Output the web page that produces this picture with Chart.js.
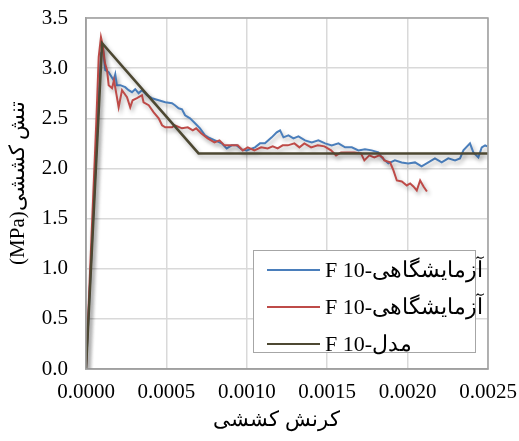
<!DOCTYPE html>
<html>
<head>
<meta charset="utf-8">
<script src="https://cdn.jsdelivr.net/npm/chart.js@4/dist/chart.umd.min.js"></script>
<style>
  body { margin: 0; background: #fff; }
  #wrap { position: relative; width: 519px; height: 441px; }
  #legend {
    position: absolute; left: 253px; top: 250px; width: 223px; height: 103px;
    border: 1px solid #a6a6a6; background: #fff; box-sizing: border-box;
    font-family: "Liberation Serif", "Times New Roman", serif; font-size: 22px;
  }
  .item { position: absolute; left: 13px; height: 26px; display: flex; align-items: center; white-space: nowrap; }
  .swatch { width: 53px; height: 0; border-top: 2px solid; margin-right: 5px; }
</style>
</head>
<body>
<div id="wrap">
  <canvas id="chart" width="519" height="441"></canvas>
  <div id="legend"></div>
</div>
<script>
const strainBlue = [0, 0.000080, 0.000093, 0.000106, 0.000120, 0.000141, 0.000172, 0.000182, 0.000192, 0.000213,
  0.000244, 0.000265, 0.000286, 0.000306, 0.000327, 0.000348, 0.000379, 0.000410, 0.000452, 0.000493,
  0.000535, 0.000553, 0.000576, 0.000597, 0.000616, 0.000647, 0.000678, 0.000709, 0.000740, 0.000761,
  0.000802, 0.000844, 0.000875, 0.000906, 0.000937, 0.000968, 0.000999, 0.001051, 0.001082, 0.001113,
  0.001155, 0.001186, 0.001207, 0.001228, 0.001259, 0.001290, 0.001321, 0.001362, 0.001404, 0.001445,
  0.001487, 0.001528, 0.001570, 0.001611, 0.001653, 0.001694, 0.001735, 0.001777, 0.001818, 0.001839,
  0.001880, 0.001921, 0.001963, 0.002004, 0.002046, 0.002087, 0.002129, 0.002170, 0.002212, 0.002253,
  0.002295, 0.002326, 0.002347, 0.002388, 0.002409, 0.002440, 0.002461, 0.002482, 0.002495];
const stressBlue = [0, 2.70, 3.15, 3.18, 2.98, 2.96, 2.88, 2.94, 2.83, 2.83,
  2.81, 2.78, 2.76, 2.79, 2.75, 2.78, 2.73, 2.70, 2.68, 2.66,
  2.65, 2.63, 2.60, 2.59, 2.53, 2.50, 2.45, 2.40, 2.33, 2.31,
  2.28, 2.25, 2.20, 2.23, 2.23, 2.19, 2.18, 2.21, 2.25, 2.25,
  2.31, 2.36, 2.38, 2.31, 2.33, 2.30, 2.32, 2.28, 2.26, 2.28,
  2.25, 2.23, 2.25, 2.21, 2.21, 2.18, 2.19, 2.18, 2.16, 2.11,
  2.05, 2.08, 2.06, 2.05, 2.06, 2.02, 2.06, 2.10, 2.06, 2.10,
  2.08, 2.10, 2.18, 2.25, 2.16, 2.11, 2.21, 2.23, 2.22];

const strainRed = [0, 0.000065, 0.000079, 0.000093, 0.000104, 0.000118, 0.000131, 0.000141, 0.000162, 0.000174,
  0.000203, 0.000224, 0.000255, 0.000275, 0.000290, 0.000317, 0.000348, 0.000358, 0.000390, 0.000421,
  0.000452, 0.000473, 0.000493, 0.000535, 0.000553, 0.000597, 0.000633, 0.000664, 0.000685, 0.000716,
  0.000757, 0.000799, 0.000830, 0.000861, 0.000913, 0.000944, 0.000975, 0.001006, 0.001047, 0.001089,
  0.001130, 0.001161, 0.001192, 0.001223, 0.001255, 0.001296, 0.001327, 0.001358, 0.001400, 0.001441,
  0.001483, 0.001524, 0.001555, 0.001586, 0.001628, 0.001669, 0.001710, 0.001731, 0.001762, 0.001793,
  0.001824, 0.001845, 0.001855, 0.001891, 0.001912, 0.001933, 0.001964, 0.001995, 0.002016, 0.002036,
  0.002057, 0.002078, 0.002099, 0.002120];
const stressRed = [0, 2.50, 3.11, 3.31, 3.23, 3.05, 2.98, 2.83, 2.80, 2.88,
  2.61, 2.78, 2.71, 2.61, 2.68, 2.70, 2.73, 2.66, 2.63, 2.56,
  2.50, 2.43, 2.41, 2.41, 2.43, 2.40, 2.41, 2.38, 2.40, 2.35,
  2.30, 2.26, 2.28, 2.23, 2.23, 2.23, 2.18, 2.21, 2.18, 2.21,
  2.20, 2.22, 2.20, 2.23, 2.23, 2.25, 2.21, 2.25, 2.21, 2.23,
  2.22, 2.18, 2.13, 2.16, 2.16, 2.16, 2.15, 2.08, 2.13, 2.11,
  2.13, 2.11, 2.08, 2.06, 1.98, 1.88, 1.87, 1.83, 1.85, 1.82,
  1.78, 1.88, 1.82, 1.77];

const strainModel = [0, 0.0001, 0.0007, 0.0025];
const stressModel = [0, 3.25, 2.15, 2.15];

const xTicks = ["0.0000", "0.0005", "0.0010", "0.0015", "0.0020", "0.0025"];
const yTicks = ["0.0", "0.5", "1.0", "1.5", "2.0", "2.5", "3.0", "3.5"];

const seriesNames = ["F 10-آزمایشگاهی", "F 10-آزمایشگاهی", "F 10-مدل"];
const seriesColors = ["#4a7ebb", "#be4b48", "#4d4832"];

const toPoints = (xs, ys) => xs.map((x, i) => ({ x: x, y: ys[i] }));

const serif = "\"Liberation Serif\", \"Times New Roman\", serif";

// Excel style soft shadow under the lines
const shadowPlugin = {
  id: "shadow",
  beforeDatasetDraw(chart) {
    const ctx = chart.ctx;
    ctx.save();
    ctx.shadowColor = "rgba(0,0,0,0.3)";
    ctx.shadowBlur = 4;
    ctx.shadowOffsetX = 2;
    ctx.shadowOffsetY = 3;
  },
  afterDatasetDraw(chart) {
    chart.ctx.restore();
  }
};

const framePlugin = {
  id: "frame",
  afterDraw(chart) {
    const { ctx, chartArea: a } = chart;
    ctx.save();
    ctx.strokeStyle = "#a0a0a0";
    ctx.lineWidth = 1.5;
    ctx.strokeRect(a.left, a.top, a.right - a.left, a.bottom - a.top);
    ctx.restore();
  }
};

new Chart(document.getElementById("chart"), {
  type: "line",
  data: {
    datasets: [
      {
        label: seriesNames[2],
        data: toPoints(strainModel, stressModel),
        borderColor: seriesColors[2],
        borderWidth: 2.5,
        order: 0
      },
      {
        label: seriesNames[1],
        data: toPoints(strainRed, stressRed),
        borderColor: seriesColors[1],
        borderWidth: 2,
        order: 1
      },
      {
        label: seriesNames[0],
        data: toPoints(strainBlue, stressBlue),
        borderColor: seriesColors[0],
        borderWidth: 2,
        order: 2
      }
    ]
  },
  options: {
    responsive: false,
    animation: false,
    elements: { point: { radius: 0 }, line: { tension: 0 } },
    layout: { padding: { top: 18, right: 31, left: 0, bottom: 0 } },
    plugins: {
      legend: { display: false },
      tooltip: { enabled: false }
    },
    scales: {
      x: {
        type: "linear",
        min: 0,
        max: 0.0025,
        afterFit: (s) => { s.height = 72; },
        afterBuildTicks: (s) => {
          s.ticks = xTicks.map((t) => ({ value: Number(t) }));
        },
        ticks: {
          color: "#000",
          font: { family: serif, size: 21 },
          padding: 2,
          maxRotation: 0,
          callback: (v, i) => xTicks[i]
        },
        grid: { color: "#d9d9d9", lineWidth: 1.5, tickLength: 9, tickColor: "rgba(0,0,0,0)" },
        border: { color: "#a0a0a0", width: 1.5 },
        title: {
          display: true,
          text: "کرنش کششی    ",
          color: "#000",
          font: { family: serif, size: 21 },
          padding: { top: 0, bottom: 8 }
        }
      },
      y: {
        min: 0,
        max: 3.5,
        afterFit: (s) => { s.width = 86; },
        afterBuildTicks: (s) => {
          s.ticks = yTicks.map((t) => ({ value: Number(t) }));
        },
        ticks: {
          color: "#000",
          font: { family: serif, size: 21 },
          padding: 3,
          callback: (v, i) => yTicks[i]
        },
        grid: { color: "#d9d9d9", lineWidth: 1.5, tickLength: 15, tickColor: "rgba(0,0,0,0)" },
        border: { color: "#a0a0a0", width: 1.5 },
        title: {
          display: true,
          text: "    (MPa)تنش کششی",
          color: "#000",
          font: { family: serif, size: 21 },
          padding: { top: 6, bottom: 0 }
        }
      }
    }
  },
  plugins: [shadowPlugin, framePlugin]
});

// legend inside the plot, bottom right
const legend = document.getElementById("legend");
[0, 1, 2].forEach((k) => {
  const item = document.createElement("div");
  item.className = "item";
  item.style.top = (6 + k * 37) + "px";
  const sw = document.createElement("span");
  sw.className = "swatch";
  sw.style.borderColor = seriesColors[k];
  const tx = document.createElement("span");
  tx.textContent = seriesNames[k];
  item.appendChild(sw);
  item.appendChild(tx);
  legend.appendChild(item);
});
</script>
</body>
</html>
